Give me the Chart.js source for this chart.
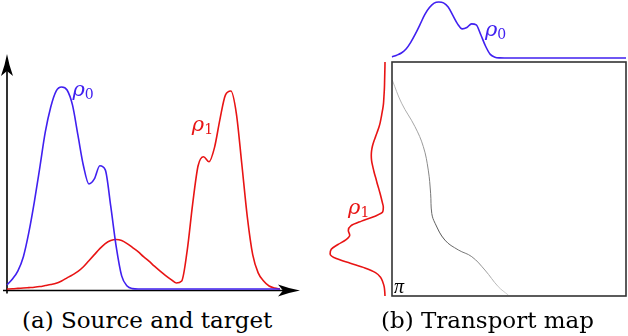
<!DOCTYPE html>
<html>
<head>
<meta charset="utf-8">
<script src="https://cdn.jsdelivr.net/npm/chart.js@4.4.0/dist/chart.umd.min.js"></script>
<style>
  body { margin: 0; background: #fff; }
  #wrap { position: relative; width: 628px; height: 336px; overflow: hidden; }
  canvas, .cap { position: absolute; }
  .cap { font-family: "DejaVu Serif", serif; font-size: 23px; color: #000; white-space: nowrap; top: 307px; }
</style>
</head>
<body>
<div id="wrap">
  <canvas id="pa" width="310" height="260" style="left:0;top:40px"></canvas>
  <canvas id="pTop" width="243" height="62" style="left:385px;top:0"></canvas>
  <canvas id="pLeft" width="72" height="250" style="left:320px;top:55px"></canvas>
  <canvas id="pMap" width="243" height="245" style="left:385px;top:55px"></canvas>
  <div class="cap" style="left:22px">(a) Source and target</div>
  <div class="cap" style="left:381px">(b) Transport map</div>
</div>
<script>
// grille commune des abscisses (0 -> 1)
const xGrid = [0, 0.02, 0.04, 0.06, 0.08, 0.10, 0.12, 0.14, 0.16, 0.18,
  0.20, 0.22, 0.24, 0.26, 0.28, 0.30, 0.32, 0.34, 0.36, 0.38,
  0.40, 0.42, 0.44, 0.46, 0.48, 0.50, 0.52, 0.54, 0.56, 0.58,
  0.60, 0.62, 0.64, 0.66, 0.68, 0.70, 0.72, 0.74, 0.76, 0.78,
  0.80, 0.82, 0.84, 0.86, 0.88, 0.90, 0.92, 0.94, 0.96, 0.98, 1.00];

// densité source rho0 (bleu)
const rho0 = [0.02, 0.05, 0.09, 0.16, 0.28, 0.43, 0.60, 0.775, 0.90, 0.98,
  1.0, 0.985, 0.91, 0.76, 0.61, 0.52, 0.545, 0.61, 0.59, 0.41,
  0.21, 0.065, 0.015, 0.002, 0, 0, 0, 0, 0, 0,
  0, 0, 0, 0, 0, 0, 0, 0, 0, 0,
  0, 0, 0, 0, 0, 0, 0, 0, 0, 0, 0];

// densité cible rho1 (rouge)
const rho1 = [0, 0.001, 0.003, 0.005, 0.007, 0.009, 0.012, 0.017, 0.022, 0.028,
  0.04, 0.055, 0.07, 0.087, 0.11, 0.14, 0.17, 0.20, 0.225, 0.24,
  0.245, 0.24, 0.225, 0.205, 0.185, 0.16, 0.138, 0.113, 0.09, 0.068,
  0.048, 0.03, 0.04, 0.19, 0.42, 0.61, 0.655, 0.63, 0.70, 0.84,
  0.96, 0.98, 0.87, 0.62, 0.36, 0.17, 0.08, 0.04, 0.015, 0.005, 0];

// carte de transport (x source, y cible)
const mapX = [0.001, 0.041, 0.098, 0.134, 0.155, 0.165, 0.17, 0.184, 0.226, 0.283, 0.341, 0.397, 0.454, 0.497];
const mapY = [0.077, 0.176, 0.276, 0.362, 0.462, 0.561, 0.647, 0.689, 0.761, 0.803, 0.832, 0.889, 0.96, 0.996];

const BLUE = '#4020f0';
const RED = '#e81414';
const LABEL_FONT = '"DejaVu Serif", serif';

function pts(xs, ys) { return xs.map((x, i) => ({ x: x, y: ys[i] })); }

// axes avec flèches (panneau a)
const arrowAxes = {
  id: 'arrowAxes',
  beforeDatasetsDraw(chart) {
    const { ctx, scales: { x, y } } = chart;
    const x0 = x.getPixelForValue(0), y0 = y.getPixelForValue(0) + 1.5;
    const xEnd = x.getPixelForValue(1) + 20, yEnd = y.getPixelForValue(1) - 33;
    ctx.save();
    ctx.strokeStyle = '#000'; ctx.fillStyle = '#000'; ctx.lineWidth = 1.6;
    ctx.beginPath();
    ctx.moveTo(x0 - 4, y0); ctx.lineTo(xEnd - 10, y0);
    ctx.moveTo(x0, y0 + 3); ctx.lineTo(x0, yEnd + 10);
    ctx.stroke();
    ctx.beginPath();
    ctx.moveTo(xEnd, y0);
    ctx.quadraticCurveTo(xEnd - 11, y0 - 2, xEnd - 22, y0 - 6);
    ctx.lineTo(xEnd - 17, y0);
    ctx.lineTo(xEnd - 22, y0 + 6);
    ctx.quadraticCurveTo(xEnd - 11, y0 + 2, xEnd, y0);
    ctx.fill();
    ctx.beginPath();
    ctx.moveTo(x0, yEnd);
    ctx.quadraticCurveTo(x0 - 2, yEnd + 11, x0 - 6, yEnd + 22);
    ctx.lineTo(x0, yEnd + 17);
    ctx.lineTo(x0 + 6, yEnd + 22);
    ctx.quadraticCurveTo(x0 + 2, yEnd + 11, x0, yEnd);
    ctx.fill();
    ctx.restore();
  }
};

// cadre du plan de transport
const boxFrame = {
  id: 'boxFrame',
  afterDatasetsDraw(chart) {
    const { ctx, chartArea: a } = chart;
    ctx.save();
    ctx.strokeStyle = '#333'; ctx.lineWidth = 1.6;
    ctx.strokeRect(a.left, a.top, a.right - a.left, a.bottom - a.top);
    ctx.restore();
  }
};

// étiquettes rho0, rho1, pi
const texLabels = {
  id: 'texLabels',
  afterDatasetsDraw(chart, args, opts) {
    const ctx = chart.ctx, xs = chart.scales.x, ys = chart.scales.y;
    (opts.items || []).forEach(it => {
      const px = xs.getPixelForValue(it.x), py = ys.getPixelForValue(it.y);
      ctx.save();
      ctx.fillStyle = it.color; ctx.textAlign = 'left'; ctx.textBaseline = 'alphabetic';
      ctx.font = 'italic ' + (it.size || 21) + 'px ' + (it.font || LABEL_FONT);
      ctx.fillText(it.text, px, py);
      const w = ctx.measureText(it.text).width;
      if (it.sub) {
        ctx.font = '14px ' + LABEL_FONT;
        ctx.fillText(it.sub, px + w, py + 3);
      }
      ctx.restore();
    });
  }
};

const baseOpts = {
  responsive: false,
  animation: false,
  events: [],
  elements: { point: { radius: 0 }, line: { borderWidth: 1.6, cubicInterpolationMode: 'monotone' } },
};

function drawAll() {
  // (a) source et cible
  new Chart(document.getElementById('pa'), {
    type: 'line',
    data: {
      datasets: [
        { data: pts(xGrid, rho0), borderColor: BLUE, clip: false },
        { data: pts(xGrid, rho1), borderColor: RED, clip: false }
      ]
    },
    options: Object.assign({}, baseOpts, {
      layout: { padding: { left: 7, right: 30, top: 47, bottom: 11 } },
      scales: {
        x: { type: 'linear', min: 0, max: 1, display: false },
        y: { type: 'linear', min: 0, max: 1, display: false }
      },
      plugins: {
        legend: { display: false }, tooltip: { enabled: false },
        texLabels: { items: [
          { text: 'ρ', sub: '0', x: 0.24, y: 0.955, color: BLUE },
          { text: 'ρ', sub: '1', x: 0.677, y: 0.78, color: RED }
        ] }
      }
    }),
    plugins: [arrowAxes, texLabels]
  });

  // (b) marginale du haut : rho0
  new Chart(document.getElementById('pTop'), {
    type: 'line',
    data: { datasets: [{ data: pts(xGrid, rho0), borderColor: BLUE, clip: false }] },
    options: Object.assign({}, baseOpts, {
      layout: { padding: { left: 7, right: 2, top: 2, bottom: 4 } },
      scales: {
        x: { type: 'linear', min: 0, max: 1, display: false },
        y: { type: 'linear', min: 0, max: 1, display: false }
      },
      plugins: {
        legend: { display: false }, tooltip: { enabled: false },
        texLabels: { items: [{ text: 'ρ', sub: '0', x: 0.397, y: 0.39, color: BLUE }] }
      }
    }),
    plugins: [texLabels]
  });

  // (b) marginale de gauche : rho1, tournée
  new Chart(document.getElementById('pLeft'), {
    type: 'line',
    data: { datasets: [{ data: pts(rho1, xGrid), borderColor: RED, clip: false }] },
    options: Object.assign({}, baseOpts, {
      indexAxis: 'y',
      layout: { padding: { left: 9, right: 7, top: 7, bottom: 9 } },
      scales: {
        x: { type: 'linear', min: 0, max: 1, reverse: true, display: false },
        y: { type: 'linear', min: 0, max: 1, reverse: true, display: false }
      },
      plugins: {
        legend: { display: false }, tooltip: { enabled: false },
        texLabels: { items: [{ text: 'ρ', sub: '1', x: 0.66, y: 0.65, color: RED }] }
      }
    }),
    plugins: [texLabels]
  });

  // (b) plan de transport
  new Chart(document.getElementById('pMap'), {
    type: 'line',
    data: {
      datasets: [{
        data: pts(mapX, mapY),
        borderWidth: 1,
        tension: 0.4,
        cubicInterpolationMode: 'default',
        clip: false,
        borderColor: (c) => {
          const a = c.chart.chartArea;
          if (!a) return '#888';
          const g = c.chart.ctx.createLinearGradient(0, a.top, 0, a.bottom);
          g.addColorStop(0, '#c8c8c8');
          g.addColorStop(0.35, '#9a9a9a');
          g.addColorStop(0.75, '#555');
          g.addColorStop(1, '#d4d4d4');
          return g;
        }
      }]
    },
    options: Object.assign({}, baseOpts, {
      layout: { padding: { left: 7, right: 2, top: 7, bottom: 4 } },
      scales: {
        x: { type: 'linear', min: 0, max: 1, display: false },
        y: { type: 'linear', min: 0, max: 1, reverse: true, display: false }
      },
      plugins: {
        legend: { display: false }, tooltip: { enabled: false },
        texLabels: { items: [{ text: 'π', x: 0.009, y: 0.987, color: '#000', size: 20, font: '"Liberation Serif", serif' }] }
      }
    }),
    plugins: [boxFrame, texLabels]
  });
}

// attendre les polices avant de dessiner les étiquettes
Promise.all([
  document.fonts.load('italic 21px "DejaVu Serif"', 'ρ'),
  document.fonts.load('14px "DejaVu Serif"', '01'),
  document.fonts.load('italic 20px "Liberation Serif"', 'π')
]).then(drawAll, drawAll);
</script>
</body>
</html>
